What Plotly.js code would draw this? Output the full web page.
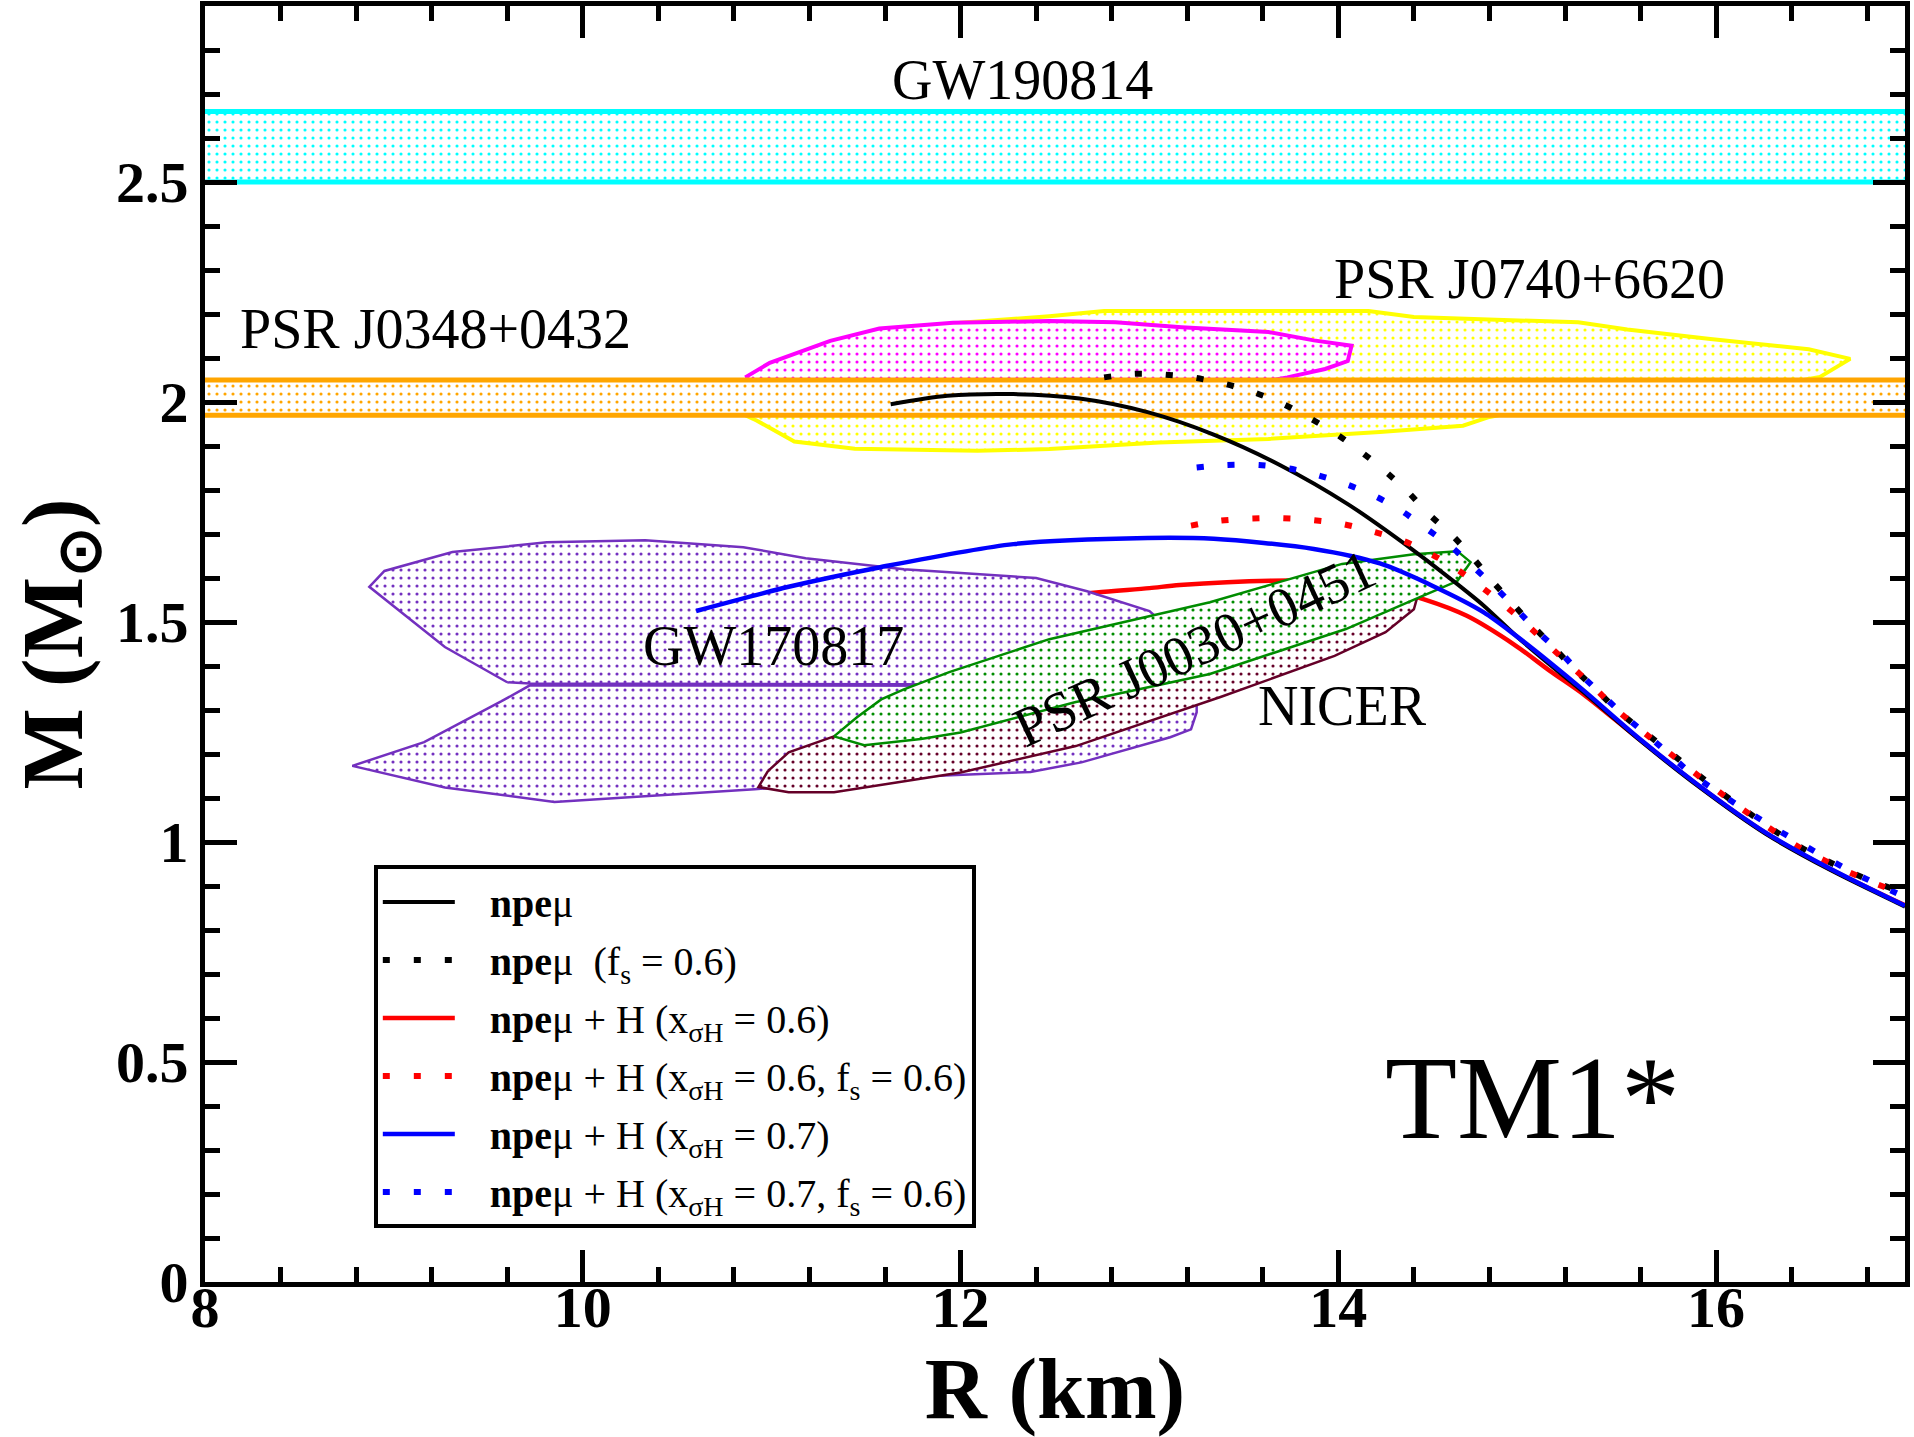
<!DOCTYPE html>
<html><head><meta charset="utf-8">
<script src="https://cdn.plot.ly/plotly-3.0.1.min.js"></script>
<style>html,body{margin:0;padding:0;background:#fff}</style>
</head><body><div id="chart" style="width:1914px;height:1437px"></div>
<script>
// ---------- axes ----------
const xRange = [8, 17];
const yRange = [0, 2.9];
const xTicks = [8, 10, 12, 14, 16];
const xTickText = ['8', '10', '12', '14', '16'];
const yTicks = [0, 0.5, 1, 1.5, 2, 2.5];
const yTickText = ['0', '0.5', '1', '1.5', '2', '2.5'];

// ---------- M-R curves ----------
const npeR = [11.63, 11.93, 12.28, 12.63, 12.99, 13.34, 13.69, 14.05, 14.41, 14.63, 14.77, 14.94, 15.12, 15.30, 15.58, 15.91, 16.26, 16.61, 17.0];
const npeM = [1.995, 2.014, 2.018, 2.008, 1.977, 1.926, 1.857, 1.768, 1.659, 1.586, 1.537, 1.469, 1.403, 1.340, 1.237, 1.125, 1.019, 0.935, 0.853];

const npeFsR = [12.76, 12.92, 13.08, 13.24, 13.40, 13.56, 13.71, 13.85, 13.99, 14.12, 14.25, 14.37, 14.48, 14.60, 14.71, 14.81, 14.92, 15.03, 15.14, 15.24, 15.37, 15.49, 15.62, 16.09, 16.44, 16.79, 17.0];
const npeFsM = [2.056, 2.064, 2.062, 2.055, 2.041, 2.021, 1.995, 1.963, 1.927, 1.887, 1.842, 1.795, 1.745, 1.698, 1.647, 1.595, 1.543, 1.491, 1.442, 1.397, 1.344, 1.294, 1.250, 1.092, 0.990, 0.917, 0.884];

const h06R = [12.30, 12.72, 13.00, 13.16, 13.64, 13.95, 14.20, 14.45, 14.68, 14.94, 15.12, 15.30, 15.58, 15.91, 16.26, 16.61, 17.0];
const h06M = [1.548, 1.567, 1.577, 1.584, 1.594, 1.592, 1.580, 1.552, 1.514, 1.446, 1.389, 1.335, 1.238, 1.127, 1.021, 0.937, 0.856];

const h06FsR = [13.22, 13.37, 13.54, 13.70, 13.86, 14.02, 14.18, 14.34, 14.48, 14.62, 14.75, 14.88, 15.00, 15.12, 15.24, 15.36, 15.47, 15.60, 16.09, 16.44, 16.79, 17.0];
const h06FsM = [1.719, 1.730, 1.735, 1.736, 1.732, 1.723, 1.706, 1.685, 1.657, 1.622, 1.582, 1.538, 1.493, 1.444, 1.397, 1.349, 1.302, 1.255, 1.090, 0.988, 0.915, 0.880];

const h07R = [10.60, 11.09, 11.57, 12.28, 12.99, 13.34, 13.87, 14.22, 14.50, 14.77, 14.94, 15.12, 15.30, 15.58, 15.91, 16.26, 16.61, 17.0];
const h07M = [1.525, 1.580, 1.624, 1.677, 1.691, 1.689, 1.666, 1.633, 1.582, 1.522, 1.469, 1.408, 1.344, 1.240, 1.128, 1.022, 0.938, 0.855];

const h07FsR = [13.25, 13.41, 13.58, 13.74, 13.89, 14.05, 14.20, 14.34, 14.47, 14.60, 14.72, 14.84, 14.95, 15.06, 15.18, 15.29, 15.41, 15.53, 15.65, 15.89, 16.30, 16.72, 17.0];
const h07FsM = [1.851, 1.857, 1.857, 1.849, 1.834, 1.812, 1.785, 1.751, 1.711, 1.670, 1.623, 1.575, 1.526, 1.476, 1.429, 1.378, 1.329, 1.281, 1.238, 1.149, 1.034, 0.932, 0.875];

// ---------- observational constraints ----------
const gw190814Band = [2.50, 2.66];
const j0348Band = [1.97, 2.05];

const j0740YellowR = [10.86, 10.92, 11.12, 11.44, 12.09, 12.47, 13.05, 13.63, 14.22, 14.66, 14.80, 15.20, 16.20, 16.55, 16.71, 16.49, 15.97, 15.53, 15.27, 15.04, 14.40, 14.16, 12.76, 12.47, 12.00, 11.30, 10.90, 10.86];
const j0740YellowM = [1.970, 1.958, 1.910, 1.894, 1.889, 1.893, 1.908, 1.916, 1.932, 1.946, 1.966, 2.000, 2.030, 2.057, 2.098, 2.120, 2.143, 2.165, 2.181, 2.184, 2.193, 2.207, 2.207, 2.195, 2.180, 2.130, 2.030, 1.970];

const j0740MagentaR = [10.86, 10.99, 11.31, 11.57, 11.96, 12.47, 12.82, 13.17, 13.63, 13.87, 14.07, 14.05, 13.93, 13.73, 13.40, 11.00, 10.86];
const j0740MagentaM = [2.056, 2.089, 2.139, 2.167, 2.180, 2.184, 2.181, 2.170, 2.159, 2.140, 2.128, 2.093, 2.075, 2.056, 2.030, 2.020, 2.056];

const gw170817UpperR = [9.60, 9.27, 8.87, 8.95, 9.31, 9.81, 10.33, 10.85, 11.18, 11.70, 12.40, 12.67, 13.00, 13.20, 13.25, 9.72, 9.60];
const gw170817UpperM = [1.363, 1.443, 1.580, 1.616, 1.659, 1.681, 1.686, 1.670, 1.645, 1.620, 1.600, 1.570, 1.525, 1.450, 1.357, 1.360, 1.363];
const gw170817LowerR = [9.57, 9.16, 8.78, 9.27, 9.85, 10.91, 11.85, 12.37, 12.64, 13.11, 13.22, 13.25, 13.25, 9.72, 9.57];
const gw170817LowerM = [1.320, 1.227, 1.173, 1.124, 1.091, 1.120, 1.150, 1.159, 1.181, 1.238, 1.256, 1.295, 1.355, 1.356, 1.320];

const j0030MaroonR = [10.98, 10.93, 11.09, 11.33, 12.00, 12.61, 13.38, 13.98, 14.25, 14.40, 14.42, 14.30, 13.80, 13.00, 12.20, 11.60, 11.33, 11.09, 10.98];
const j0030MaroonM = [1.161, 1.125, 1.113, 1.113, 1.158, 1.218, 1.330, 1.423, 1.477, 1.529, 1.560, 1.600, 1.580, 1.480, 1.360, 1.280, 1.240, 1.204, 1.161];

const j0030GreenR = [11.33, 11.49, 11.79, 12.00, 12.61, 12.76, 13.32, 14.04, 14.45, 14.63, 14.70, 14.63, 14.40, 14.02, 13.32, 12.47, 11.94, 11.70, 11.58, 11.45, 11.33];
const j0030GreenM = [1.240, 1.220, 1.234, 1.249, 1.318, 1.330, 1.382, 1.484, 1.560, 1.593, 1.636, 1.661, 1.654, 1.632, 1.545, 1.461, 1.386, 1.347, 1.324, 1.283, 1.240];

// ---------- labels ----------
const labelText = ['GW190814', 'PSR J0740+6620', 'PSR J0348+0432', 'GW170817', 'NICER', 'PSR J0030+0451'];
const labelR = [12.33, 15.01, 9.22, 11.01, 14.02, 13.24];
const labelM = [2.731, 2.279, 2.165, 1.445, 1.31, 1.44];
const labelAngle = [0, 0, 0, 0, 0, -25];
const modelName = 'TM1*';
const modelR = 15.03, modelM = 0.418;

const legendNames = [
  '<b>npe</b>μ',
  '<b>npe</b>μ&nbsp;&nbsp;(f<sub>s</sub> = 0.6)',
  '<b>npe</b>μ + H (x<sub>σH</sub> = 0.6)',
  '<b>npe</b>μ + H (x<sub>σH</sub> = 0.6, f<sub>s</sub> = 0.6)',
  '<b>npe</b>μ + H (x<sub>σH</sub> = 0.7)',
  '<b>npe</b>μ + H (x<sub>σH</sub> = 0.7, f<sub>s</sub> = 0.6)'
];

// ---------- build ----------
const FONT = 'Liberation Serif, Times New Roman, serif';
const DOT = '7px,24px';
const PAD = '&nbsp;&nbsp;&nbsp;';

function region(R, M, color, lw) {
  return {
    x: R, y: M, type: 'scatter', mode: 'lines', fill: 'toself',
    line: {color: color, width: lw},
    fillcolor: 'white',
    fillpattern: {shape: '.', fgcolor: color, bgcolor: 'white', size: 8, solidity: 0.12, fillmode: 'replace'},
    showlegend: false, hoverinfo: 'skip'
  };
}
function band(range, color) {
  const x0 = xRange[0] - 1, x1 = xRange[1] + 1;
  return region([x0, x1, x1, x0, x0], [range[0], range[0], range[1], range[1], range[0]], color, 5);
}
function curve(R, M, color, dash, name, rank, width) {
  return {
    x: R, y: M, type: 'scatter', mode: 'lines', name: PAD + name,
    line: {color: color, width: width, dash: dash, shape: 'spline', smoothing: 0.8},
    legendrank: rank, legendgroup: 'g' + rank, hoverinfo: 'skip'
  };
}

const traces = [
  curve(h06R, h06M, '#ff0000', 'solid', legendNames[2], 3, 4.5),
  band(gw190814Band, '#00ffff'),
  region(j0740YellowR, j0740YellowM, '#ffff00', 4),
  region(j0740MagentaR, j0740MagentaM, '#ff00ff', 4),
  band(j0348Band, '#ffa500'),
  region(gw170817UpperR, gw170817UpperM, '#7330bf', 2.5),
  region(gw170817LowerR, gw170817LowerM, '#7330bf', 2.5),
  region(j0030MaroonR, j0030MaroonM, '#650028', 2.5),
  region(j0030GreenR, j0030GreenM, '#008c00', 2.5),
  curve(npeR, npeM, '#000000', 'solid', legendNames[0], 1, 4),
  curve(npeFsR, npeFsM, '#000000', DOT, legendNames[1], 2, 6),
  curve(h06FsR, h06FsM, '#ff0000', DOT, legendNames[3], 4, 6),
  curve(h07R, h07M, '#0000ff', 'solid', legendNames[4], 5, 4.5),
  curve(h07FsR, h07FsM, '#0000ff', DOT, legendNames[5], 6, 6)
];

const annotations = labelText.map((t, i) => ({
  x: labelR[i], y: labelM[i], xref: 'x', yref: 'y', text: t, showarrow: false,
  textangle: labelAngle[i], font: {family: FONT, size: 56, color: '#000'},
  xanchor: 'center', yanchor: 'middle'
}));
annotations.push({
  x: modelR, y: modelM, xref: 'x', yref: 'y', text: modelName, showarrow: false,
  font: {family: FONT, size: 118, color: '#000'}, xanchor: 'center', yanchor: 'middle'
});

const axisCommon = {
  showgrid: false, zeroline: false, showline: true, linecolor: '#000', linewidth: 5,
  mirror: 'ticks', ticks: 'inside', ticklen: 32, tickwidth: 5, tickcolor: '#000',
  tickfont: {family: FONT, size: 58, color: '#000', weight: 'bold'},
  fixedrange: true
};

const layout = {
  width: 1914, height: 1437,
  margin: {l: 205, r: 9, t: 6, b: 155},
  paper_bgcolor: '#fff', plot_bgcolor: '#fff',
  showlegend: true,
  xaxis: Object.assign({}, axisCommon, {
    range: xRange, tickvals: xTicks, ticktext: xTickText, ticklabelstandoff: -30,
    minor: {dtick: 0.4, tick0: 8, ticks: 'inside', ticklen: 15, tickwidth: 5, tickcolor: '#000', showgrid: false},
    title: {text: 'R (km)', font: {family: FONT, size: 86, color: '#000', weight: 'bold'}, standoff: 30}
  }),
  yaxis: Object.assign({}, axisCommon, {
    range: yRange, tickvals: yTicks, ticktext: yTickText,
    minor: {dtick: 0.1, tick0: 0, ticks: 'inside', ticklen: 15, tickwidth: 5, tickcolor: '#000', showgrid: false},
    title: {text: 'M (M<sub>⊙</sub>)', font: {family: FONT, size: 86, color: '#000', weight: 'bold'}, standoff: 6}
  }),
  legend: {
    x: 0.0993, y: 0.3265, xanchor: 'left', yanchor: 'top',
    bgcolor: '#fff', bordercolor: '#000', borderwidth: 4,
    font: {family: FONT, size: 40, color: '#000'},
    itemwidth: 72, tracegroupgap: 3, traceorder: 'grouped'
  },
  annotations: annotations
};

Plotly.newPlot('chart', traces, layout, {displayModeBar: false, staticPlot: true});
</script></body></html>
